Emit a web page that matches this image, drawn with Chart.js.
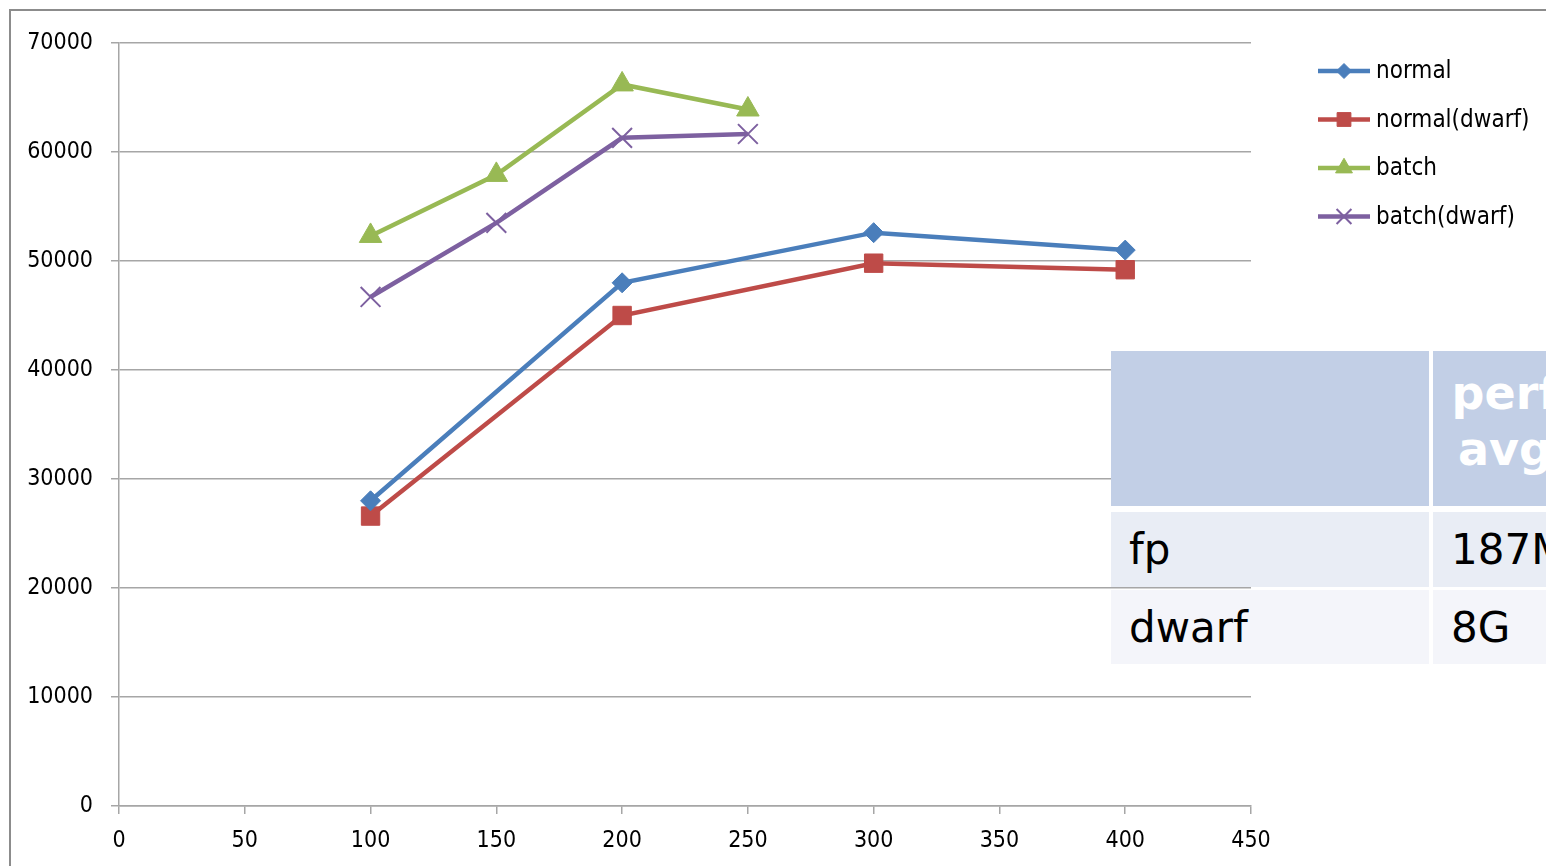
<!DOCTYPE html>
<html>
<head>
<meta charset="utf-8">
<script src="https://cdn.jsdelivr.net/npm/chart.js@4.4.0/dist/chart.umd.min.js"></script>
<style>
  html, body { margin: 0; padding: 0; background: #fff; overflow: hidden; }
  #wrap { position: relative; width: 1546px; height: 866px; overflow: hidden; }
  #frame { position: absolute; left: 9px; top: 9px; width: 1600px; height: 900px; border: 2px solid #8c8c8c; box-sizing: border-box; }
  canvas { position: absolute; left: 0; top: 0; }
  .cell { position: absolute; font-family: "DejaVu Sans", sans-serif; box-sizing: border-box; }
  .head { background: #c2cfe6; }
  .head2 { color: #fff; font-weight: bold; font-size: 46px; line-height: 56px; text-align: center; padding-top: 14px; }
  .r1 { background: #e9edf5; }
  .r2 { background: #f4f5fa; }
  .txt { font-size: 42px; color: #000; line-height: 75px; padding-left: 18px; }
</style>
</head>
<body>
<div id="wrap">
  <div id="frame"></div>
  <canvas id="chart" width="1546" height="866"></canvas>
  <div class="cell head" style="left:1111px;top:351px;width:318px;height:155px;"></div>
  <div class="cell head head2" style="left:1433px;top:351px;width:144px;height:155px;">perf<br>avg</div>
  <div class="cell r1 txt" style="left:1111px;top:512px;width:318px;height:75px;">fp</div>
  <div class="cell r1 txt" style="left:1433px;top:512px;width:144px;height:75px;">187M</div>
  <div class="cell r2 txt" style="left:1111px;top:590px;width:318px;height:74px;">dwarf</div>
  <div class="cell r2 txt" style="left:1433px;top:590px;width:144px;height:74px;">8G</div>
</div>
<script>
// x positions of the measurements
const normalX = [100, 200, 300, 400];
const batchX = [100, 150, 200, 250];

// throughput values
const normal = [28000, 48000, 52600, 51000];
const normalDwarf = [26600, 45000, 49800, 49200];
const batch = [52300, 57900, 66200, 63900];
const batchDwarf = [46700, 53500, 61300, 61650];

const seriesNames = ['normal', 'normal(dwarf)', 'batch', 'batch(dwarf)'];

const toPoints = (xs, ys) => xs.map((x, i) => ({ x: x, y: ys[i] }));

const font = '"DejaVu Sans Condensed", "DejaVu Sans", sans-serif';

// legend drawn by hand so it sits where Excel put it
const legendPlugin = {
  id: 'sideLegend',
  afterDraw(chart) {
    const ctx = chart.ctx;
    ctx.save();
    chart.data.datasets.forEach((ds, i) => {
      const y = 71 + i * 48.5;
      ctx.strokeStyle = ds.borderColor;
      ctx.lineWidth = 4.5;
      ctx.beginPath();
      ctx.moveTo(1318, y);
      ctx.lineTo(1370, y);
      ctx.stroke();
      ctx.fillStyle = ds.pointBackgroundColor;
      ctx.strokeStyle = ds.pointBorderColor;
      ctx.lineWidth = ds.pointBorderWidth;
      Chart.helpers.drawPoint(ctx, {
        pointStyle: ds.pointStyle,
        radius: ds.pointRadius * 0.75,
        rotation: 0,
        borderWidth: ds.pointBorderWidth
      }, 1344, y);
      ctx.fillStyle = '#000';
      ctx.font = '24px ' + font;
      ctx.textBaseline = 'middle';
      ctx.fillText(seriesNames[i], 1376, y + 1);
    });
    ctx.restore();
  }
};

const ctx = document.getElementById('chart').getContext('2d');

new Chart(ctx, {
  type: 'scatter',
  data: {
    datasets: [
      {
        label: seriesNames[0],
        data: toPoints(normalX, normal),
        borderColor: '#4a7ebb',
        pointBackgroundColor: '#4a7ebb',
        pointBorderColor: '#4a7ebb',
        pointStyle: 'rectRot',
        pointRadius: 10,
        pointBorderWidth: 1
      },
      {
        label: seriesNames[1],
        data: toPoints(normalX, normalDwarf),
        borderColor: '#be4b48',
        pointBackgroundColor: '#be4b48',
        pointBorderColor: '#be4b48',
        pointStyle: 'rect',
        pointRadius: 13,
        pointBorderWidth: 1
      },
      {
        label: seriesNames[2],
        data: toPoints(batchX, batch),
        borderColor: '#98b954',
        pointBackgroundColor: '#98b954',
        pointBorderColor: '#98b954',
        pointStyle: 'triangle',
        pointRadius: 13,
        pointBorderWidth: 1
      },
      {
        label: seriesNames[3],
        data: toPoints(batchX, batchDwarf),
        borderColor: '#7d60a0',
        pointBackgroundColor: '#7d60a0',
        pointBorderColor: '#7d60a0',
        pointStyle: 'crossRot',
        pointRadius: 14,
        pointBorderWidth: 2
      }
    ]
  },
  options: {
    responsive: false,
    animation: false,
    showLine: true,
    elements: { line: { borderWidth: 4.5, tension: 0 } },
    layout: { padding: { left: 0, top: 43, right: 295, bottom: 10 } },
    plugins: {
      legend: { display: false },
      tooltip: { enabled: false }
    },
    scales: {
      x: {
        type: 'linear',
        min: 0,
        max: 450,
        afterFit(scale) { scale.height = 50; },
        ticks: {
          stepSize: 50, color: '#000', font: { family: font, size: 23 }, padding: 13,
          callback: (v) => String(v)
        },
        grid: { drawOnChartArea: false, drawTicks: true, tickLength: 8, color: '#a6a6a6', lineWidth: 1.5 },
        border: { color: '#a6a6a6', width: 1.5 }
      },
      y: {
        min: 0,
        max: 70000,
        afterFit(scale) { scale.width = 119; },
        ticks: {
          stepSize: 10000, color: '#000', font: { family: font, size: 23 }, padding: 18,
          callback: (v) => String(v)
        },
        grid: { drawTicks: true, tickLength: 8, color: '#a6a6a6', lineWidth: 1.5 },
        border: { color: '#a6a6a6', width: 1.5 }
      }
    }
  },
  plugins: [legendPlugin]
});
</script>
</body>
</html>
